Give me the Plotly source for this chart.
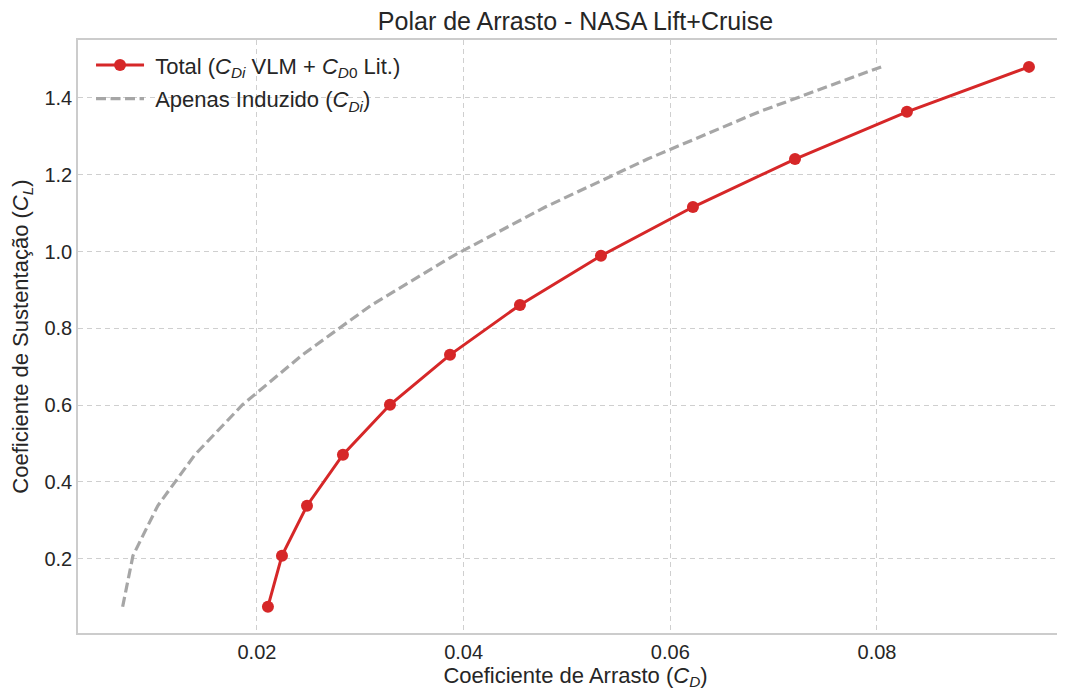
import plotly.graph_objects as go

# Data
cl = [0.075, 0.208, 0.338, 0.471, 0.601, 0.731, 0.861, 0.989, 1.116, 1.241, 1.364, 1.481]
cd_total = [0.02106, 0.02242, 0.02484, 0.02832, 0.03287, 0.03868, 0.04545, 0.05329, 0.06219, 0.07207, 0.08290, 0.09471]
cd_induced = [0.0070, 0.0080, 0.0104, 0.0140, 0.0186, 0.0244, 0.0311, 0.0390, 0.0479, 0.0578, 0.0686, 0.0804]

x_ticks = [0.02, 0.04, 0.06, 0.08]
x_ticklabels = ["0.02", "0.04", "0.06", "0.08"]
y_ticks = [0.2, 0.4, 0.6, 0.8, 1.0, 1.2, 1.4]
y_ticklabels = ["0.2", "0.4", "0.6", "0.8", "1.0", "1.2", "1.4"]

FONT = "Liberation Sans, Arial, sans-serif"
TXT = "#262626"

fig = go.Figure()
fig.add_trace(go.Scatter(
    x=cd_total, y=cl, mode="lines+markers",
    name="&nbsp;Total (<i>C</i><sub><i>Di</i></sub> VLM + <i>C</i><sub><i>D</i>0</sub> Lit.)",
    line=dict(color="#d62728", width=3),
    marker=dict(color="#d62728", size=12),
    legendgroup="a",
))
fig.add_trace(go.Scatter(
    x=cd_induced, y=cl, mode="lines",
    name="&nbsp;Apenas Induzido (<i>C</i><sub><i>Di</i></sub>)",
    line=dict(color="#a6a6a6", width=3.2, dash="10px,4.5px"),
    legendgroup="b",
))

fig.update_layout(
    width=1066, height=685,
    paper_bgcolor="white", plot_bgcolor="white",
    margin=dict(l=70, r=1, t=32, b=60, autoexpand=False),
    font=dict(family=FONT, color=TXT, size=20),
    title=dict(text="Polar de Arrasto - NASA Lift+Cruise", x=0.5, xanchor="center",
               xref="paper", yref="container",
               y=0.9805, yanchor="middle", font=dict(size=25, color=TXT)),
    showlegend=True,
    legend=dict(x=0.0131, y=0.993, xanchor="left", yanchor="top",
                traceorder="grouped", tracegroupgap=2, itemwidth=48,
                bgcolor="rgba(0,0,0,0)", font=dict(size=22, color=TXT)),
    xaxis=dict(
        range=[0.00268, 0.09897],
        tickvals=x_ticks, ticktext=x_ticklabels,
        showgrid=True, gridcolor="#cfcfcf", griddash="5px,4px", gridwidth=1,
        showline=True, linecolor="#cccccc", linewidth=1.5, mirror=True,
        ticks="", zeroline=False, automargin=False,
        title=dict(text="Coeficiente de Arrasto (<i>C</i><sub><i>D</i></sub>)", font=dict(size=22), standoff=4),
        tickfont=dict(size=20),
    ),
    yaxis=dict(
        range=[0.0065, 1.551],
        tickvals=y_ticks, ticktext=y_ticklabels,
        showgrid=True, gridcolor="#cfcfcf", griddash="5px,4px", gridwidth=1,
        showline=True, linecolor="#cccccc", linewidth=1.5,
        ticks="", zeroline=False, automargin=False,
        title=dict(text="Coeficiente de Sustentação (<i>C</i><sub><i>L</i></sub>)", font=dict(size=22), standoff=10),
        tickfont=dict(size=20),
    ),
)

fig.write_html("out.html")
